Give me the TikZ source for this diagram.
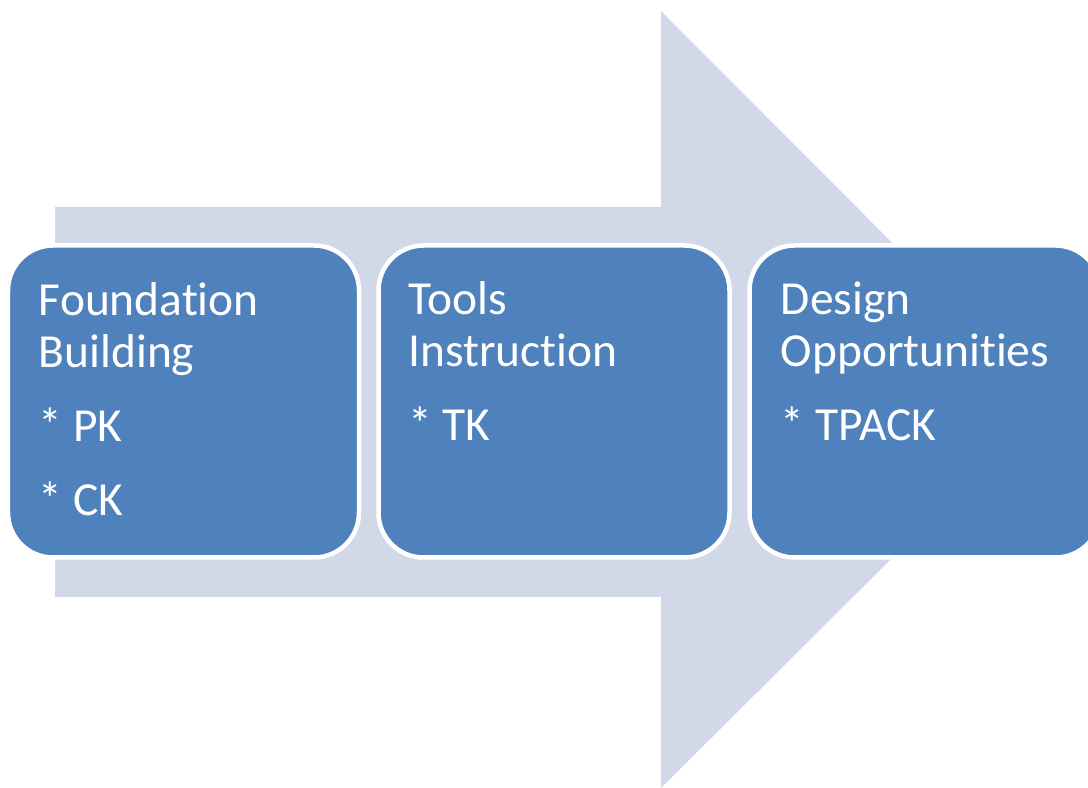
\documentclass[tikz,border=0pt]{standalone}
\usepackage{fontspec}
\setmainfont[Ligatures=NoCommon]{Carlito}
\usetikzlibrary{positioning,calc}
\definecolor{tpblue}{RGB}{79,129,189}
\definecolor{tplight}{RGB}{209,216,232}
\tikzset{
  stage/.style={draw=white, line width=0.09cm, fill=tpblue, rounded corners=0.9cm, minimum width=7.02cm, minimum height=6.24cm, inner sep=0pt, outer sep=0pt},
  stagetext/.style={anchor=base west, align=left, text=white, inner sep=0pt, font=\fontsize{27}{29.6}\selectfont}
}

\begin{document}
\begin{tikzpicture}
  \useasboundingbox (0,0) rectangle (21.76,15.76);
  \clip (0,0) rectangle (21.76,15.76);
  % big arrow behind the stages
  \fill[tplight] (1.10,3.82) -- (13.22,3.82) -- (13.22,0) -- (21.0,7.74) -- (13.22,15.54) -- (13.22,11.62) -- (1.10,11.62) -- cycle;
  \node[stage] (found) at (3.67,7.73) {};
  \node[stage, right=0.39cm of found] (tools) {};
  \node[stage, right=0.40cm of tools] (design) {};
  % base anchor sits on the last line
  \node[stagetext] (foundtxt) at ($(found.north west)+(0.61,-5.40)$) {Foundation\\Building\\[0.44cm]* PK\\[0.44cm]* CK};
  \node[stagetext] (toolstxt) at ($(tools.north west)+(0.59,-3.90)$) {Tools\\Instruction\\[0.44cm]* TK};
  \node[stagetext] (designtxt) at ($(design.north west)+(0.62,-3.90)$) {Design\\Opportunities\\[0.44cm]* TPACK};
\end{tikzpicture}
\end{document}
